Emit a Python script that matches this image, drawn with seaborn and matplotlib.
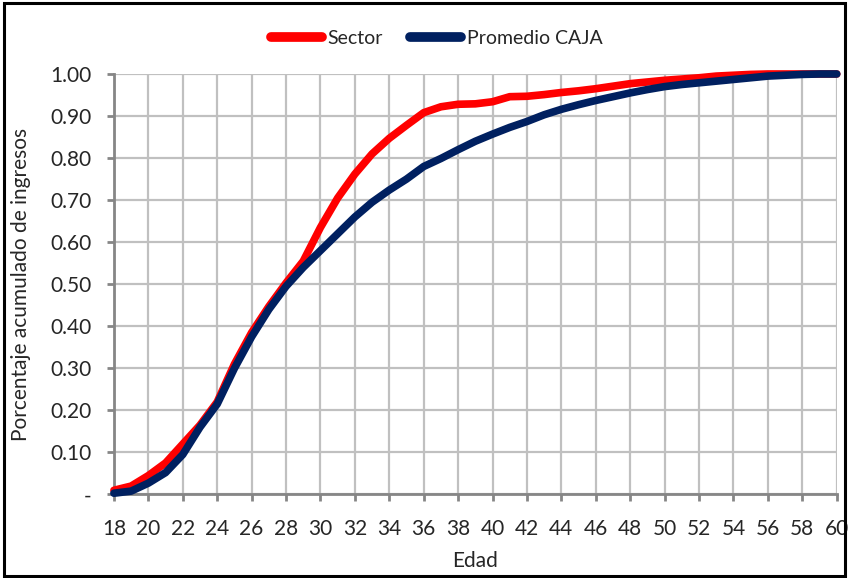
import matplotlib
matplotlib.use("Agg")
import matplotlib.pyplot as plt
import seaborn as sns
import pandas as pd
from matplotlib.patches import Rectangle
from matplotlib.lines import Line2D

# Cumulative share of income by age
edades = list(range(18, 61))
sector = [0.010, 0.020, 0.045, 0.075, 0.120, 0.165, 0.220, 0.310, 0.385, 0.447,
          0.503, 0.555, 0.635, 0.705, 0.762, 0.810, 0.847, 0.878, 0.908, 0.922,
          0.928, 0.929, 0.934, 0.946, 0.947, 0.951, 0.956, 0.960, 0.965, 0.971,
          0.977, 0.981, 0.985, 0.988, 0.991, 0.995, 0.997, 0.999, 1.000, 1.000,
          1.000, 1.000, 1.000]
promedio_caja = [0.003, 0.008, 0.027, 0.052, 0.095, 0.160, 0.215, 0.300, 0.375, 0.440,
                 0.495, 0.540, 0.580, 0.620, 0.660, 0.695, 0.724, 0.750, 0.780, 0.799,
                 0.820, 0.840, 0.857, 0.873, 0.887, 0.903, 0.916, 0.927, 0.937, 0.946,
                 0.955, 0.963, 0.970, 0.975, 0.979, 0.983, 0.987, 0.991, 0.995, 0.997,
                 0.999, 1.000, 1.000]
series = ["Sector", "Promedio CAJA"]
colores = ["#FF0000", "#002060"]

y_ticks = [i / 10 for i in range(11)]
y_labels = ["-"] + [f"{v:.2f}" for v in y_ticks[1:]]
x_ticks = list(range(18, 61, 2))

df = pd.DataFrame({
    "Edad": edades * 2,
    "valor": sector + promedio_caja,
    "serie": [series[0]] * len(edades) + [series[1]] * len(edades),
})

sns.set_theme(style="white")
plt.rcParams["font.family"] = ["Lato", "DejaVu Sans"]

fig = plt.figure(figsize=(8.56, 5.78), dpi=100)
ax = fig.add_axes([0.1331, 0.1445, 0.8444, 0.7275])

sns.lineplot(data=df, x="Edad", y="valor", hue="serie", hue_order=series,
             palette=dict(zip(series, colores)), linewidth=5.5, ax=ax,
             legend=False, zorder=3)
for ln in ax.get_lines():
    ln.set_solid_capstyle("round")
    ln.set_solid_joinstyle("round")
    ln.set_clip_on(False)

ax.set_xlim(18, 60)
ax.set_ylim(0, 1)
ax.set_xticks(x_ticks)
ax.set_xticklabels([str(t) for t in x_ticks])
ax.set_yticks(y_ticks)
ax.set_yticklabels(y_labels)

ax.grid(True, color="#C0C0C0", linewidth=1.6, zorder=0)
ax.set_axisbelow(True)
for side in ("top", "right"):
    ax.spines[side].set_visible(False)
for side in ("left", "bottom"):
    ax.spines[side].set_color("#868686")
    ax.spines[side].set_linewidth(2.0)
    ax.spines[side].set_zorder(2)

ax.tick_params(axis="x", direction="out", length=5, width=2, color="#868686",
               labelsize=15, pad=13, bottom=True)
ax.tick_params(axis="y", direction="out", length=5, width=2, color="#868686",
               labelsize=15, pad=11, left=True)

ax.set_xlabel("Edad", fontsize=15, labelpad=8)
ax.set_ylabel("Porcentaje acumulado de ingresos", fontsize=15, labelpad=14)

# Legend above the plot
handles = [Line2D([], [], color=c, linewidth=7, solid_capstyle="round") for c in colores]
fig.legend(handles, series, loc="center", bbox_to_anchor=(437 / 856, 1 - 38 / 578),
           ncol=2, frameon=False, fontsize=14, handlelength=2.6,
           handletextpad=0.3, columnspacing=1.4)

# Frame around the whole figure
fig.patches.append(Rectangle((4 / 856, 2 / 578), 841 / 856, 573 / 578,
                             transform=fig.transFigure, fill=False,
                             edgecolor="black", linewidth=2.2))

fig.savefig("out.png", dpi=100)
